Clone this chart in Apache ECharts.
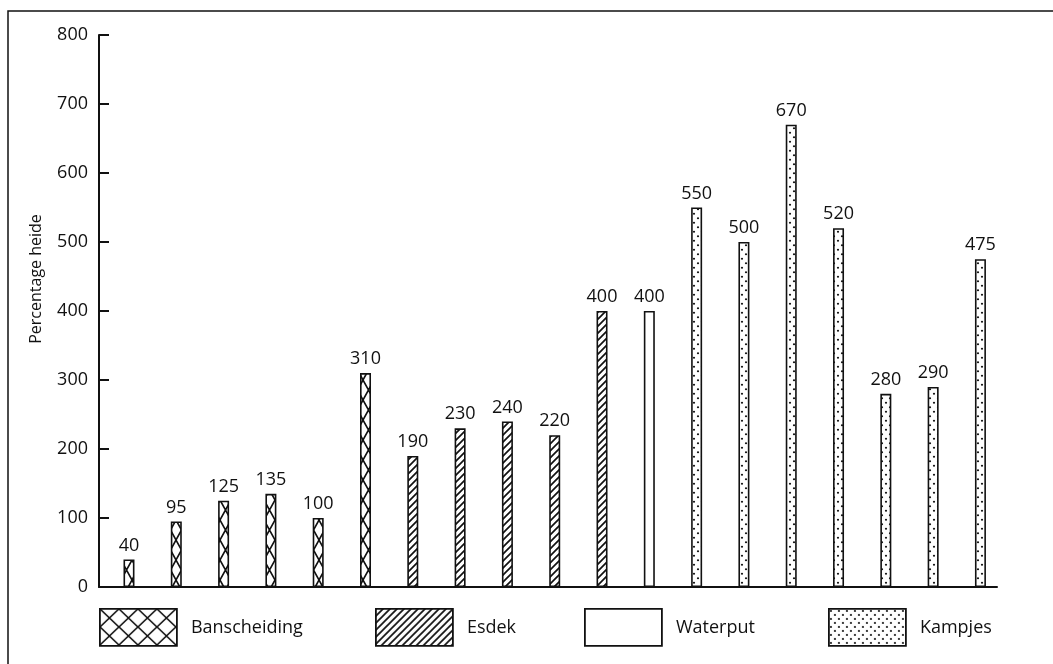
<!DOCTYPE html>
<html>
<head>
<meta charset="utf-8">
<script src="https://cdn.jsdelivr.net/npm/echarts@6/dist/echarts.min.js"></script>
<style>
  html,body{margin:0;padding:0;background:#fff;}
  #chart{width:1053px;height:664px;}
</style>
</head>
<body>
<div id="chart"></div>
<script>
// ==================== DATA ====================
const groupNames = ['Banscheiding', 'Esdek', 'Waterput', 'Kampjes'];
const banscheiding = [40, 95, 125, 135, 100, 310];
const esdek = [190, 230, 240, 220, 400];
const waterput = [400];
const kampjes = [550, 500, 670, 520, 280, 290, 475];
const yMin = 0, yMax = 800, yStep = 100;

// ==================== PATTERNS ====================
function tile(w, h, draw) {
  const c = document.createElement('canvas');
  c.width = w; c.height = h;
  const g = c.getContext('2d');
  g.fillStyle = '#fff'; g.fillRect(0, 0, w, h);
  g.strokeStyle = '#111'; g.fillStyle = '#111';
  draw(g, w, h);
  return { image: c, repeat: 'repeat' };
}
const cross = (w, h) => tile(w, h, (g) => {
  g.lineWidth = 1.6;
  g.beginPath(); g.moveTo(0, 0); g.lineTo(w, h); g.moveTo(w, 0); g.lineTo(0, h); g.stroke();
});
const hatch = (s) => tile(s, s, (g) => {
  g.lineWidth = 1.7;
  g.beginPath();
  g.moveTo(-1, s + 1); g.lineTo(s + 1, -1);
  g.moveTo(-1, 1); g.lineTo(1, -1);
  g.moveTo(s - 1, s + 1); g.lineTo(s + 1, s - 1);
  g.stroke();
});
const dots = (w, h) => tile(w, h, (g) => {
  [[w * 0.25, h * 0.25], [w * 0.75, h * 0.75]].forEach(([x, y]) => {
    g.beginPath(); g.arc(x, y, 1.1, 0, Math.PI * 2); g.fill();
  });
});

const barFills = [cross(11, 20), hatch(7), '#fff', dots(8, 9)];
const legendFills = [cross(19, 18), hatch(7), '#fff', dots(8, 8)];

// ==================== CHART ====================
const groupsData = [banscheiding, esdek, waterput, kampjes];
let pos = 0;
const series = groupsData.map((vals, gi) => {
  const data = vals.map(v => [pos++, v]);
  return {
    name: groupNames[gi], type: 'bar', data, barWidth: 11, barGap: '-100%',
    itemStyle: { color: barFills[gi], borderColor: '#111', borderWidth: 1.6 },
    label: { show: true, position: 'top', distance: 5, color: '#111', fontSize: 18,
      fontFamily: 'Open Sans', formatter: p => p.value[1] },
    emphasis: { disabled: true }, animation: false
  };
});

const legendLeft = [99, 375, 584, 828];
const legends = groupNames.map((n, i) => ({
  left: legendLeft[i], top: 608, icon: 'rect', itemWidth: 77, itemHeight: 37,
  selectedMode: false, padding: 0,
  data: [{ name: n, itemStyle: { color: legendFills[i], borderColor: '#111', borderWidth: 1.8 } }],
  textStyle: { color: '#111', fontSize: 18, fontFamily: 'Open Sans', padding: [0, 0, 0, 9] }
}));

const chart = echarts.init(document.getElementById('chart'));
chart.setOption({
  backgroundColor: '#fff',
  animation: false,
  grid: { left: 99, right: 56, top: 35, bottom: 77 },
  xAxis: {
    type: 'value', min: -0.634, max: 18.35,
    axisLine: { show: true, onZero: false, lineStyle: { color: '#111', width: 2 } },
    axisTick: { show: false }, axisLabel: { show: false }, splitLine: { show: false }
  },
  yAxis: {
    type: 'value', min: yMin, max: yMax, interval: yStep,
    name: 'Percentage heide', nameLocation: 'middle', nameGap: 55,
    nameTextStyle: { color: '#111', fontSize: 16, fontFamily: 'Open Sans', padding: [0, 0, 0, 64] },
    axisLine: { show: true, onZero: false, lineStyle: { color: '#111', width: 2 } },
    axisTick: { show: true, inside: true, length: 10, lineStyle: { color: '#111', width: 2 } },
    axisLabel: { color: '#111', fontSize: 18, fontFamily: 'Open Sans', margin: 11 },
    splitLine: { show: false }
  },
  legend: legends,
  graphic: [{
    type: 'polyline', silent: true,
    shape: { points: [[8, 664], [8, 11], [1053, 11]] },
    style: { stroke: '#111', lineWidth: 1.5, fill: null }
  }],
  series
});
</script>
</body>
</html>
